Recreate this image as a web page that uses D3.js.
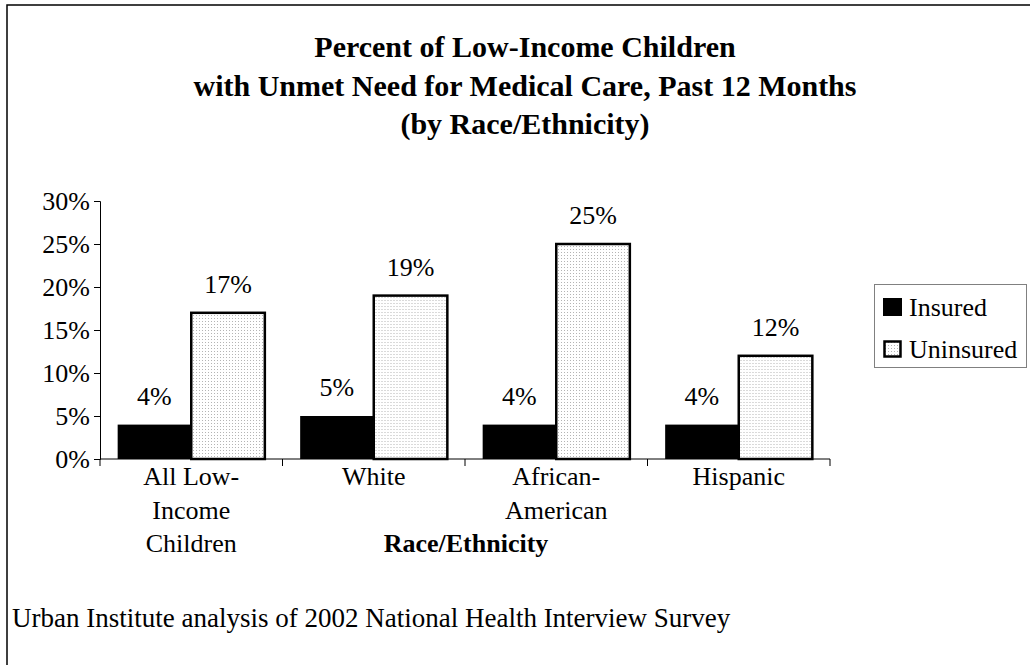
<!DOCTYPE html>
<html>
<head>
<meta charset="utf-8">
<script src="https://cdn.jsdelivr.net/npm/d3@7"></script>
<style>
  html, body { margin: 0; padding: 0; background: #fff; }
  svg { display: block; }
  svg text { font-family: "Liberation Serif", "Times New Roman", Times, serif; fill: #000; }
</style>
</head>
<body>
<svg id="chart" width="1030" height="665" font-family="Liberation Serif, Times New Roman, serif"></svg>
<script>
// Chart data
const categories = [["All Low-", "Income", "Children"], ["White"], ["African-", "American"], ["Hispanic"]];
const seriesNames = ["Insured", "Uninsured"];
const insured = [4, 5, 4, 4];
const uninsured = [17, 19, 25, 12];
const yTicks = [0, 5, 10, 15, 20, 25, 30];
const titleLines = ["Percent of Low-Income Children", "with Unmet Need for Medical Care, Past 12 Months", "(by Race/Ethnicity)"];
const xAxisTitle = "Race/Ethnicity";
const sourceNote = "Urban Institute analysis of 2002 National Health Interview Survey";

const FONT = 26;
const svg = d3.select("#chart");

// dotted fill used for the uninsured bars
const defs = svg.append("defs");
const pat = defs.append("pattern").attr("id", "dots")
  .attr("patternUnits", "userSpaceOnUse").attr("width", 3).attr("height", 3);
pat.append("rect").attr("width", 3).attr("height", 3).attr("fill", "#fff");
pat.append("rect").attr("width", 1).attr("height", 1).attr("fill", "#b4b4b4");

// outer frame
svg.append("rect").attr("x", 7).attr("y", 5).attr("width", 1040).attr("height", 680)
  .attr("fill", "none").attr("stroke", "#000").attr("stroke-width", 1.5);

// title
const title = svg.append("text").attr("text-anchor", "middle")
  .style("font-weight", "bold").style("font-size", "30px");
titleLines.forEach((t, i) => {
  title.append("tspan").attr("x", 525).attr("y", 57 + i * 38.5).text(t);
});

// scales
const plot = { left: 100, right: 830, top: 201, bottom: 459 };
const idx = categories.map((_, i) => i);
const x = d3.scaleBand().domain(idx).range([plot.left, plot.right]).paddingInner(0).paddingOuter(0);
const xs = d3.scaleBand().domain(seriesNames).range([0, x.bandwidth()]).paddingInner(0).paddingOuter(0.24);
const y = d3.scaleLinear().domain([0, 30]).range([plot.bottom, plot.top]);

// y axis
const yAxis = svg.append("g").attr("transform", `translate(${plot.left},0)`)
  .call(d3.axisLeft(y).tickValues(yTicks).tickSize(6).tickPadding(4).tickFormat(d => d + "%"));
yAxis.attr("font-family", null).attr("font-size", null);
yAxis.select(".domain").attr("stroke", "#000");
yAxis.selectAll(".tick line").attr("stroke", "#000");
yAxis.selectAll(".tick text").style("font-size", FONT + "px").attr("dy", "0.33em");

// bars
const rows = idx.map(i => ({ i, values: [insured[i], uninsured[i]] }));
const groups = svg.append("g").selectAll("g").data(rows).join("g")
  .attr("transform", d => `translate(${x(d.i)},0)`);

groups.selectAll("rect").data(d => d.values.map((v, k) => ({ key: seriesNames[k], v })))
  .join("rect")
  .attr("x", d => xs(d.key))
  .attr("width", xs.bandwidth())
  .attr("y", d => y(d.v))
  .attr("height", d => y(0) - y(d.v))
  .attr("fill", d => d.key === "Insured" ? "#000" : "url(#dots)")
  .attr("stroke", d => d.key === "Insured" ? "none" : "#000")
  .attr("stroke-width", 2.5);

groups.selectAll("text.val").data(d => d.values.map((v, k) => ({ key: seriesNames[k], v })))
  .join("text").attr("class", "val")
  .attr("x", d => xs(d.key) + xs.bandwidth() / 2)
  .attr("y", d => y(d.v) - 20)
  .attr("text-anchor", "middle").style("font-size", FONT + "px")
  .text(d => d.v + "%");

// x axis
const xAxis = svg.append("g").attr("transform", `translate(0,${plot.bottom})`);
xAxis.append("line").attr("x1", plot.left).attr("x2", plot.right)
  .attr("stroke", "#000").attr("stroke-width", 1);
const bounds = idx.map(i => x(i)).concat([plot.right]);
xAxis.selectAll("line.tk").data(bounds).join("line").attr("class", "tk")
  .attr("x1", d => d).attr("x2", d => d).attr("y1", 0).attr("y2", 7)
  .attr("stroke", "#000");

// category labels
const catLabels = svg.append("g").selectAll("text").data(idx).join("text")
  .attr("text-anchor", "middle").style("font-size", FONT + "px");
catLabels.each(function (i) {
  const t = d3.select(this);
  categories[i].forEach((line, j) => {
    t.append("tspan").attr("x", x(i) + x.bandwidth() / 2).attr("y", 485 + j * 33.5).text(line);
  });
});

// axis title
svg.append("text").attr("x", 466).attr("y", 552).attr("text-anchor", "middle")
  .style("font-size", FONT + "px").style("font-weight", "bold").text(xAxisTitle);

// source note
svg.append("text").attr("x", 12).attr("y", 627).style("font-size", "27px").text(sourceNote);

// legend
const legend = svg.append("g");
legend.append("rect").attr("x", 874.5).attr("y", 284.5).attr("width", 152).attr("height", 83)
  .attr("fill", "#fff").attr("stroke", "#808080").attr("stroke-width", 1);
const legendItems = seriesNames.map((name, k) => ({ name, k }));
const li = legend.selectAll("g").data(legendItems).join("g")
  .attr("transform", d => `translate(0,${d.k * 42})`);
li.append("rect")
  .attr("x", d => d.k === 0 ? 883 : 884.5).attr("y", d => d.k === 0 ? 298 : 299.5)
  .attr("width", d => d.k === 0 ? 19 : 16).attr("height", d => d.k === 0 ? 18 : 15)
  .attr("fill", d => d.k === 0 ? "#000" : "url(#dots)")
  .attr("stroke", d => d.k === 0 ? "none" : "#000").attr("stroke-width", 2.5);
li.append("text").attr("x", 909).attr("y", 316).style("font-size", FONT + "px").text(d => d.name);
</script>
</body>
</html>
